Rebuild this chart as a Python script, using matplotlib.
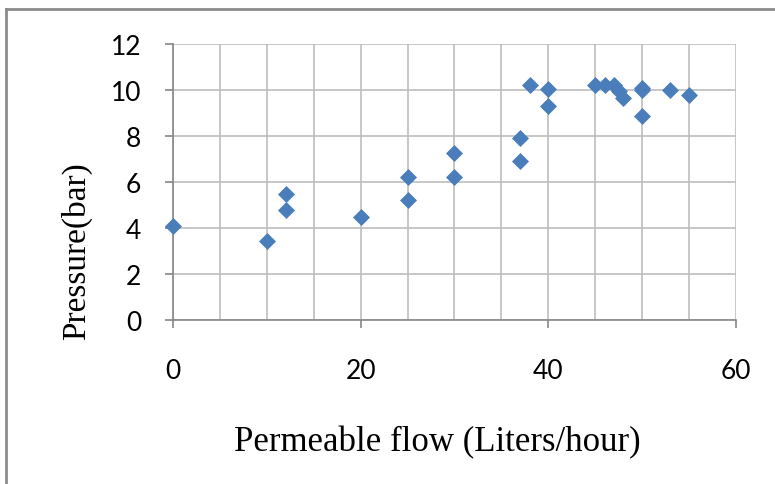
import matplotlib.pyplot as plt
from matplotlib.lines import Line2D

# Data
flow = [0, 10, 12, 12, 20, 25, 25, 30, 30, 37, 37, 38, 40, 40,
        45, 46, 47, 47.5, 48, 50, 50, 50, 53, 55]
pressure = [4.1, 3.45, 5.5, 4.8, 4.5, 6.2, 5.2, 7.25, 6.2, 7.9, 6.9, 10.2, 10.05, 9.3,
            10.2, 10.2, 10.2, 9.95, 9.65, 10.1, 10.0, 8.85, 10.0, 9.8]
x_ticks = [0, 20, 40, 60]
y_ticks = [0, 2, 4, 6, 8, 10, 12]

grid_col = '#BDBDBD'
axis_col = '#868686'
marker_col = '#4A7EBB'

fig = plt.figure(figsize=(7.75, 4.85), dpi=100)
ax = fig.add_axes([0.2232, 0.3381, 0.7265, 0.5691])

ax.scatter(flow, pressure, marker='D', s=75, color=marker_col, linewidths=0,
           zorder=3, clip_on=False)

ax.set_xlim(0, 60)
ax.set_ylim(0, 12)
ax.set_xticks(x_ticks)
ax.set_xticks(range(5, 60, 5), minor=True)
ax.set_yticks(y_ticks)

ax.grid(True, which='both', axis='x', color=grid_col, linewidth=1.2)
ax.grid(True, which='major', axis='y', color=grid_col, linewidth=1.2)
ax.set_axisbelow(True)

for side in ['top', 'right']:
    ax.spines[side].set_visible(False)
for side in ['left', 'bottom']:
    ax.spines[side].set_color(axis_col)
    ax.spines[side].set_linewidth(1.2)

ax.tick_params(axis='both', which='major', direction='out', length=6, width=1.2,
               color=axis_col, labelsize=19)
ax.tick_params(axis='x', which='major', pad=21)
ax.tick_params(axis='y', which='major', pad=17)
ax.tick_params(axis='x', which='minor', length=0)
for lab in ax.get_xticklabels() + ax.get_yticklabels():
    lab.set_fontfamily('Lato')

ax.set_xlabel('Permeable flow (Liters/hour)', fontsize=25, family='Liberation Serif',
              va='center')
ax.xaxis.set_label_coords(0.469, -0.442)
ax.set_ylabel('Pressure(bar)', fontsize=24, family='Liberation Serif', va='center')
ax.yaxis.set_label_coords(-0.172, 0.254)

# outer chart border (left and top edges)
fig.add_artist(Line2D([0.008, 0.008], [0, 0.979], color='#8C8C8C', linewidth=2,
                      transform=fig.transFigure))
fig.add_artist(Line2D([0.008, 1], [0.979, 0.979], color='#8C8C8C', linewidth=2,
                      transform=fig.transFigure))

fig.savefig('out.png', dpi=100)
